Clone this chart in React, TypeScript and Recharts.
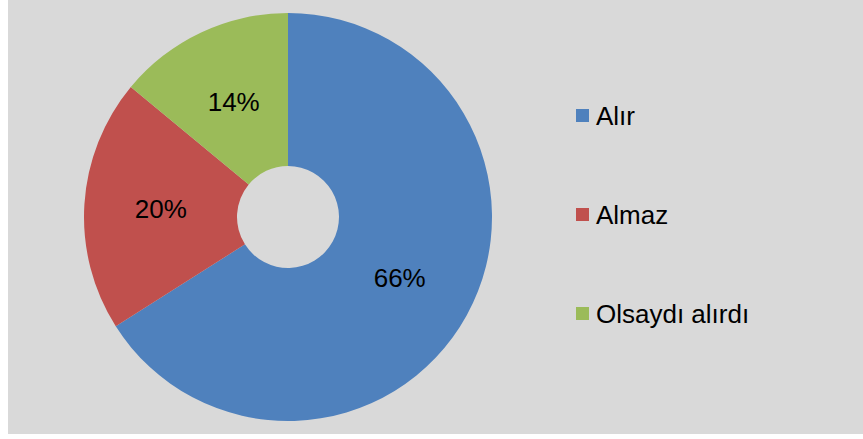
import React from 'react';
import { PieChart, Pie, Cell, Legend } from 'recharts';

const categories = ['Alır', 'Almaz', 'Olsaydı alırdı'];
const values = [66, 20, 14];
const colors = ['#4f81bd', '#c0504d', '#9bbb59'];

const data = categories.map((name, i) => ({ name, value: values[i] }));

const FONT = '"Liberation Sans", Arial, sans-serif';
const RADIAN = Math.PI / 180;

const renderLabel = (props: any) => {
  const { cx, cy, midAngle, innerRadius, outerRadius, percent } = props;
  const r = (innerRadius + outerRadius) / 2;
  const x = cx + r * Math.cos(-midAngle * RADIAN);
  const y = cy + r * Math.sin(-midAngle * RADIAN);
  return (
    <text
      x={x}
      y={y}
      fill="#000"
      textAnchor="middle"
      dominantBaseline="central"
      style={{ fontFamily: FONT, fontSize: 26 }}
    >
      {`${Math.round(percent * 100)}%`}
    </text>
  );
};

const renderLegend = (props: any) => {
  const { payload } = props;
  const ordered = [...payload].sort(
    (a: any, b: any) => categories.indexOf(a.value) - categories.indexOf(b.value)
  );
  return (
    <div style={{ fontFamily: FONT, fontSize: 26, color: '#000' }}>
      {ordered.map((entry: any, i: number) => (
        <div
          key={i}
          style={{ display: 'flex', alignItems: 'center', height: 99, lineHeight: 1 }}
        >
          <span
            style={{
              display: 'inline-block',
              width: 13,
              height: 13,
              background: entry.color,
              marginRight: 7,
              flex: 'none',
            }}
          />
          <span style={{ whiteSpace: 'nowrap' }}>{entry.value}</span>
        </div>
      ))}
    </div>
  );
};

export default function App() {
  return (
    <div style={{ position: 'absolute', left: 8, top: 0, width: 855, height: 434, background: '#d9d9d9' }}>
      <PieChart width={855} height={434} margin={{ top: 0, right: 0, bottom: 0, left: 0 }}>
        <Pie
          data={data}
          dataKey="value"
          nameKey="name"
          cx={280}
          cy={217}
          innerRadius={51}
          outerRadius={204}
          startAngle={90}
          endAngle={-270}
          stroke="none"
          labelLine={false}
          label={renderLabel}
          isAnimationActive={false}
        >
          {data.map((d, i) => (
            <Cell key={d.name} fill={colors[i]} />
          ))}
        </Pie>
        <Legend
          content={renderLegend}
          layout="vertical"
          verticalAlign="middle"
          align="right"
          itemSorter={(item: any) => categories.indexOf(item.value)}
          wrapperStyle={{ left: 568, top: 66, width: 280, right: 'auto' }}
        />
      </PieChart>
    </div>
  );
}
